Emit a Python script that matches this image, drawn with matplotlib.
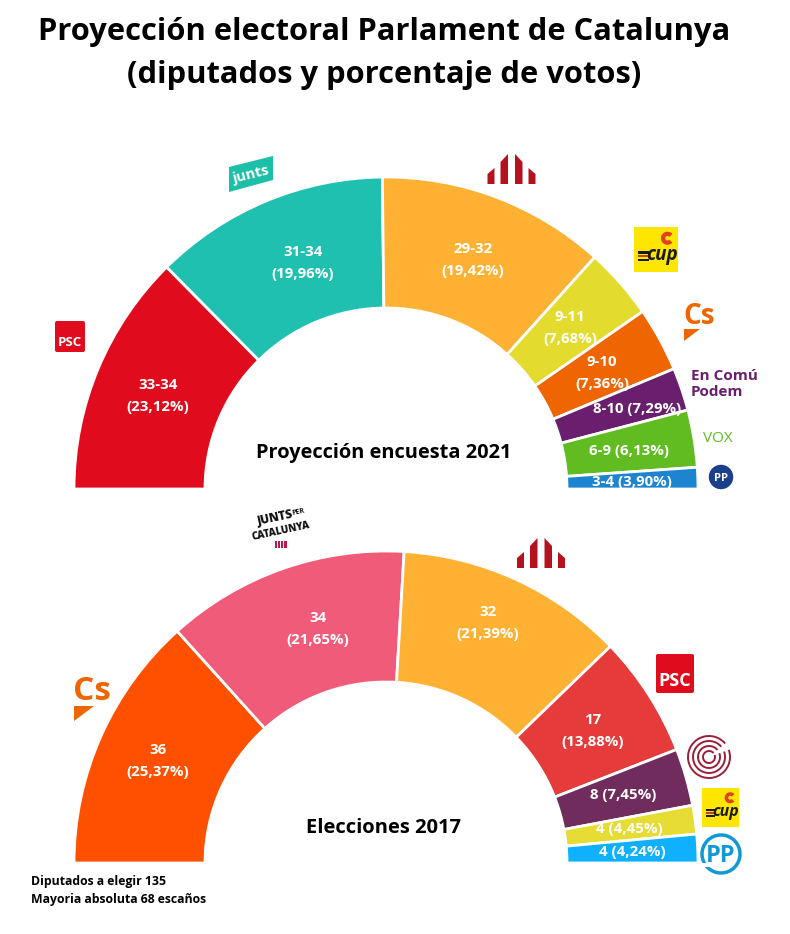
import matplotlib
matplotlib.use("Agg")
import matplotlib.pyplot as plt
from matplotlib.patches import Wedge, Rectangle, Polygon, Circle, FancyBboxPatch, Arc

plt.rcParams['font.family'] = ['Open Sans', 'DejaVu Sans']

# arc size of each party, in seats of the 135
seats_2021 = [34, 33, 32, 10, 9, 6, 8, 3]
labels_2021 = ['33-34\n(23,12%)', '31-34\n(19,96%)', '29-32\n(19,42%)', '9-11\n(7,68%)',
               '9-10\n(7,36%)', '8-10 (7,29%)', '6-9 (6,13%)', '3-4 (3,90%)']
colors_2021 = ['#E00B1C', '#20C0B0', '#FFB133', '#E4DB2F', '#EE6502', '#6A1F6E', '#61BC22', '#1D84D0']

seats_2017 = [36, 34, 32, 17, 8, 4, 4]
labels_2017 = ['36\n(25,37%)', '34\n(21,65%)', '32\n(21,39%)', '17\n(13,88%)',
               '8 (7,45%)', '4 (4,45%)', '4 (4,24%)']
colors_2017 = ['#FF5000', '#EF5B78', '#FFB133', '#E63B3B', '#702C5C', '#E6DC33', '#0FB1FF']

pos_2021 = [(158, 396), (303, 263), (473, 260), (570, 328), (602, 373), (637, 409), (629, 451), (632, 482)]
pos_2017 = [(158, 761), (318, 629), (488, 623), (593, 731), (623, 795), (629, 829), (632, 852)]

fig = plt.figure(figsize=(7.9, 9.34), dpi=100)
ax = fig.add_axes([0, 0, 1, 1])
ax.set_xlim(0, 790)
ax.set_ylim(934, 0)
ax.axis('off')


def hemicycle(cx, cy, seats, colors, labels, positions):
    start = 180
    total = sum(seats)
    for s, c in zip(seats, colors):
        end = start + s * 180 / total
        ax.add_patch(Wedge((cx, cy), 312, start, end, width=131, fc=c, ec='white', lw=2))
        start = end
    for lab, (x, y) in zip(labels, positions):
        ax.text(x, y, lab, color='white', fontsize=10.8, fontweight='bold',
                ha='center', va='center', linespacing=1.65, zorder=5)


hemicycle(386, 489, seats_2021, colors_2021, labels_2021, pos_2021)
hemicycle(386, 863, seats_2017, colors_2017, labels_2017, pos_2017)
# clean white strip under each half circle
ax.add_patch(Rectangle((60, 488.5), 660, 4, fc='white', ec='none', zorder=3))
ax.add_patch(Rectangle((60, 862.5), 660, 4, fc='white', ec='none', zorder=3))

ax.text(384, 32, 'Proyección electoral Parlament de Catalunya', fontsize=22.2,
        fontweight='bold', ha='center', va='center')
ax.text(384, 75, '(diputados y porcentaje de votos)', fontsize=22.2,
        fontweight='bold', ha='center', va='center')
ax.text(384, 453, 'Proyección encuesta 2021', fontsize=14.4, fontweight='bold', ha='center', va='center')
ax.text(383, 828, 'Elecciones 2017', fontsize=14.5, fontweight='bold', ha='center', va='center')
ax.text(31, 881, 'Diputados a elegir 135', fontsize=8.8, fontweight='bold', va='center')
ax.text(31, 899, 'Mayoria absoluta 68 escaños', fontsize=8.8, fontweight='bold', va='center')


def psc_logo(x, y, w, h, fs):
    ax.add_patch(FancyBboxPatch((x + 2, y + 2), w - 4, h - 4, boxstyle='round,pad=2',
                                fc='#E00B1C', ec='none'))
    ax.text(x + w / 2, y + h * 0.68, 'PSC', color='white', fontsize=fs, fontweight='bold',
            ha='center', va='center')


def erc_logo(cx, base, s):
    red = '#B5121F'
    ax.add_patch(Polygon([(cx - 24 * s, base), (cx - 24 * s, base - 10 * s), (cx - 17 * s, base - 16 * s),
                          (cx - 17 * s, base)], fc=red, ec='none'))
    ax.add_patch(Polygon([(cx - 11 * s, base), (cx - 11 * s, base - 22 * s), (cx - 3.5 * s, base - 30 * s),
                          (cx - 3.5 * s, base)], fc=red, ec='none'))
    ax.add_patch(Polygon([(cx + 11 * s, base), (cx + 11 * s, base - 22 * s), (cx + 3.5 * s, base - 30 * s),
                          (cx + 3.5 * s, base)], fc=red, ec='none'))
    ax.add_patch(Polygon([(cx + 24 * s, base), (cx + 24 * s, base - 10 * s), (cx + 17 * s, base - 16 * s),
                          (cx + 17 * s, base)], fc=red, ec='none'))


def cup_logo(x, y, w, h):
    ax.add_patch(Rectangle((x, y), w, h, fc='#FFE600', ec='none'))
    ax.text(x + w * 0.64, y + h * 0.62, 'cup', color='#1A1A1A', fontsize=w * 0.31, fontweight='bold',
            style='italic', ha='center', va='center')
    ax.add_patch(Rectangle((x + w * 0.1, y + h * 0.54), w * 0.25, h * 0.05, fc='#1A1A1A', ec='none'))
    ax.add_patch(Rectangle((x + w * 0.1, y + h * 0.62), w * 0.25, h * 0.05, fc='#C8401A', ec='none'))
    ax.add_patch(Rectangle((x + w * 0.1, y + h * 0.70), w * 0.25, h * 0.05, fc='#1A1A1A', ec='none'))
    ax.add_patch(Arc((x + w * 0.76, y + h * 0.25), w * 0.2, w * 0.2, theta1=40, theta2=320,
                     color='#E2401F', lw=w * 0.07))


def cs_logo(x, y, fs, tri):
    ax.text(x, y, 'Cs', color='#EE6502', fontsize=fs, fontweight='bold', va='center')
    ax.add_patch(Polygon([(x + 1, y + tri * 0.75), (x + 1 + tri, y + tri * 0.75), (x + 1, y + tri * 1.5)],
                         fc='#EE6502', ec='none'))


def pp_circle(cx, cy, r, fc, ec, fs, tc):
    ax.add_patch(Circle((cx, cy), r, fc=fc, ec=ec, lw=2.5))
    ax.text(cx, cy + r * 0.1, 'PP', color=tc, fontsize=fs, fontweight='bold', ha='center', va='center')


# logos, top half
psc_logo(55, 321, 30, 31, 9.5)
ax.add_patch(Polygon([(229, 167), (273, 156), (273, 180), (229, 192)], fc='#1CBFA8', ec='none'))
ax.text(251, 175, 'junts', color='white', fontsize=10.5, fontweight='bold', rotation=14, ha='center', va='center')
erc_logo(511.5, 184, 1)
cup_logo(634, 227, 44, 45)
cs_logo(683, 317, 20, 16)
ax.text(691, 384, 'En Comú\nPodem', color='#6A1F6E', fontsize=11, fontweight='bold',
        va='center', linespacing=1.2)
ax.text(718, 439, 'VOX', color='#61BC22', fontsize=11, ha='center', va='center')
pp_circle(721, 477, 10.5, '#1B3F8B', '#1B3F8B', 8, 'white')

# logos, bottom half (no condensed font here, so sizes are kept small to fit the width)
ax.text(275, 518, 'JUNTS', color='#111111', fontsize=8.5, fontweight='black',
        rotation=12, ha='center', va='center')
ax.text(298, 512, 'PER', color='#111111', fontsize=5, fontweight='bold',
        rotation=12, ha='center', va='center')
ax.text(281, 531, 'CATALUNYA', color='#111111', fontsize=7, fontweight='black',
        rotation=12, ha='center', va='center')
for i in range(4):
    ax.add_patch(Rectangle((275 + i * 3.1, 541), 2.2, 7, fc='#B5174F', ec='none'))
erc_logo(541, 568, 1)
cs_logo(73, 691, 24, 20)
psc_logo(656, 654, 38, 39, 13)
for r in [21, 16, 11, 6]:
    ax.add_patch(Arc((709, 757), 2 * r, 2 * r, theta1=-20, theta2=320, color='#9C1F3A', lw=1.4))
cup_logo(702, 788, 37, 39)
pp_circle(721, 854, 19, 'white', '#1199D6', 17, '#1199D6')

fig.savefig('out.png', dpi=100)
